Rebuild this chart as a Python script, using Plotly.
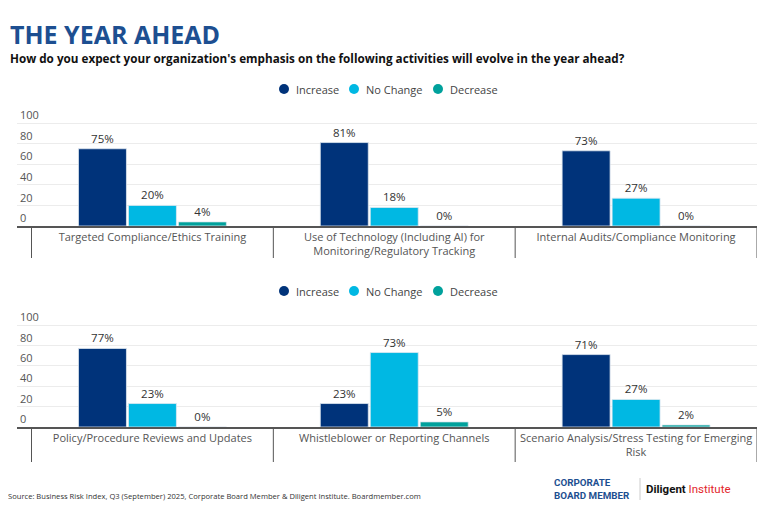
import plotly.graph_objects as go

# page has an 8px body margin, so the figure is sized to fit inside the window
OFF = 8
W, H = 776 - OFF, 513 - OFF

series = ["Increase", "No Change", "Decrease"]
colors = ["#00337a", "#00b8e3", "#00a19c"]

top_categories = [
    "Targeted Compliance/Ethics Training",
    "Use of Technology (Including AI) for<br>Monitoring/Regulatory Tracking",
    "Internal Audits/Compliance Monitoring",
]
top_increase = [75, 81, 73]
top_no_change = [20, 18, 27]
top_decrease = [4, 0, 0]

bottom_categories = [
    "Policy/Procedure Reviews and Updates",
    "Whistleblower or Reporting Channels",
    "Scenario Analysis/Stress Testing for Emerging<br>Risk",
]
bottom_increase = [77, 23, 71]
bottom_no_change = [23, 73, 27]
bottom_decrease = [0, 5, 2]

y_ticks = [0, 20, 40, 60, 80, 100]

FONT = "Open Sans"


def px_x(p):
    return (p - OFF) / W


def px_y(p):
    return 1 - (p - OFF) / H


fig = go.Figure()

top_vals = [top_increase, top_no_change, top_decrease]
bottom_vals = [bottom_increase, bottom_no_change, bottom_decrease]

for name, col, vals in zip(series, colors, top_vals):
    fig.add_trace(go.Bar(
        x=top_categories, y=vals, name=name,
        marker=dict(color=col, line=dict(color="#dfe8f0", width=0.8)),
        text=[f"{v}%" for v in vals], textposition="outside", cliponaxis=False,
        textfont=dict(size=11.5, color="#333333", family=FONT),
        showlegend=False, xaxis="x", yaxis="y", hoverinfo="skip"))

for name, col, vals in zip(series, colors, bottom_vals):
    fig.add_trace(go.Bar(
        x=bottom_categories, y=vals, name=name,
        marker=dict(color=col, line=dict(color="#dfe8f0", width=0.8)),
        text=[f"{v}%" for v in vals], textposition="outside", cliponaxis=False,
        textfont=dict(size=11.5, color="#333333", family=FONT),
        showlegend=False, xaxis="x2", yaxis="y2", hoverinfo="skip"))

x_dom = [px_x(17), px_x(757)]
xr = [-0.56, 2.5]
YMAX = 125  # headroom so the "100" label (drawn above its gridline) is visible
common_x = dict(domain=x_dom, range=xr, type="category", showline=True, linecolor="#555555",
                linewidth=1.5, ticks="", showgrid=False, zeroline=False,
                tickfont=dict(size=11, color="#555555", family=FONT), fixedrange=True)
common_y = dict(range=[0, YMAX], tickvals=y_ticks, showgrid=True, gridcolor="#ececec",
                gridwidth=1, zeroline=False, ticklabelposition="inside top",
                tickfont=dict(size=11, color="#555555", family=FONT), showline=False,
                fixedrange=True)

top_base, top_100 = 226, 123
bot_base, bot_100 = 427, 325
top_top = top_base - (top_base - top_100) * YMAX / 100
bot_top = bot_base - (bot_base - bot_100) * YMAX / 100

fig.update_layout(
    width=W, height=H, margin=dict(l=0, r=0, t=0, b=0),
    paper_bgcolor="white", plot_bgcolor="white",
    barmode="group", bargap=0.38, bargroupgap=0.04,
    xaxis=dict(anchor="y", **common_x),
    yaxis=dict(anchor="x", domain=[px_y(top_base), px_y(top_top)], **common_y),
    xaxis2=dict(anchor="y2", **common_x),
    yaxis2=dict(anchor="x2", domain=[px_y(bot_base), px_y(bot_top)], **common_y),
    showlegend=False,
)

shapes = []
for xref, ytop, ybot in [("x", top_base, 258), ("x2", bot_base, 462)]:
    for i in range(len(top_categories) + 1):
        shapes.append(dict(type="line", xref=xref, yref="paper", x0=i - 0.5, x1=i - 0.5,
                           y0=px_y(ytop), y1=px_y(ybot), line=dict(color="#555555", width=1)))
shapes.append(dict(type="line", xref="paper", yref="paper", x0=px_x(640), x1=px_x(640),
                   y0=px_y(478), y1=px_y(500), line=dict(color="#cccccc", width=1)))

annotations = [
    dict(text="<b>THE YEAR AHEAD</b>", x=px_x(8), y=px_y(34), xref="paper", yref="paper",
         xanchor="left", yanchor="middle", showarrow=False,
         font=dict(size=25, color="#1d4f91", family=FONT, weight=800)),
    dict(text="<b>How do you expect your organization's emphasis on the following activities will evolve in the year ahead?</b>",
         x=px_x(8), y=px_y(58), xref="paper", yref="paper", xanchor="left", yanchor="middle",
         showarrow=False, font=dict(size=11.7, color="#111111", family=FONT)),
    dict(text="Source: Business Risk Index, Q3 (September) 2025, Corporate Board Member & Diligent Institute. Boardmember.com",
         x=px_x(6), y=px_y(496), xref="paper", yref="paper", xanchor="left", yanchor="middle",
         showarrow=False, font=dict(size=7.6, color="#333333", family=FONT)),
    dict(text="<b>CORPORATE<br>BOARD MEMBER</b>", x=px_x(552), y=px_y(489), xref="paper", yref="paper",
         xanchor="left", yanchor="middle", align="left", showarrow=False,
         font=dict(size=9.8, color="#1d4f91", family="Roboto", weight=900), height=26),
    dict(text="<b>Diligent</b> <span style='color:#e3262b'>Institute</span>", x=px_x(644), y=px_y(489),
         xref="paper", yref="paper", xanchor="left", yanchor="middle", showarrow=False,
         font=dict(size=11.5, color="#111111", family="Roboto")),
]

# custom legends (circle marker + label) above each panel
legend_marker_x = [284, 354, 438]
for ly in [89, 291]:
    for name, col, mx in zip(series, colors, legend_marker_x):
        shapes.append(dict(type="circle", xref="paper", yref="paper", xsizemode="pixel", ysizemode="pixel",
                           xanchor=px_x(mx), yanchor=px_y(ly), x0=-5, x1=5, y0=-5, y1=5,
                           fillcolor=col, line=dict(width=0)))
        annotations.append(dict(text=name, x=px_x(mx + 10), y=px_y(ly), xref="paper", yref="paper",
                                xanchor="left", yanchor="middle", showarrow=False,
                                font=dict(size=11, color="#444444", family=FONT)))

fig.update_layout(shapes=shapes, annotations=annotations)

fig.write_html("out.html")
